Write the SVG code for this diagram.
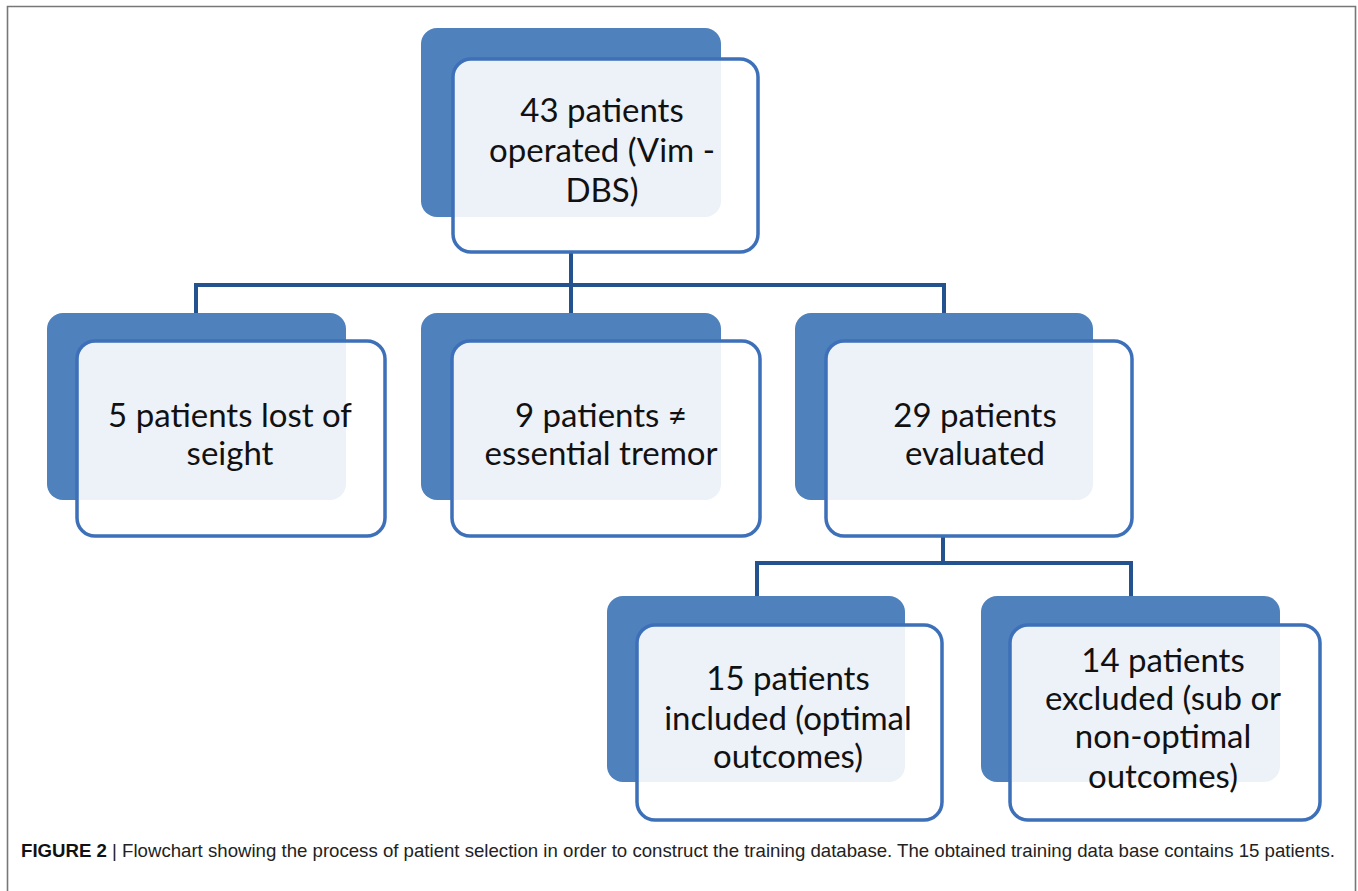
<svg xmlns="http://www.w3.org/2000/svg" width="1358" height="891" viewBox="0 0 1358 891">
<style>
.back{fill:#4f81bd}
.frontbg{fill:#ffffff}
.light{fill:#edf2f9}
.front{fill:none;stroke:#3d70b8;stroke-width:3.5}
.lbl{font-family:Lato,"Open Sans",sans-serif;font-size:33px;fill:#111;text-anchor:middle}
.conn{fill:none;stroke:#24528f;stroke-width:4}
.faint{fill:none;stroke:#dde6f2;stroke-width:4}
.cap{font-family:"Liberation Sans",Arial,sans-serif;font-size:18.5px;fill:#222}
</style>
<rect x="0" y="0" width="1358" height="891" fill="#ffffff"/>
<path d="M7.5,891 V6.5 H1355.5 V891" fill="none" stroke="#777" stroke-width="1.6"/>

<g id="connectors">
<path class="faint" d="M571,226 V250 M943,508 V534"/>
<path class="conn" d="M571,253 V313 M196,313 V285 H944 V313"/>
<path class="conn" d="M943,537 V563 M757,596 V563 H1131 V596"/>
</g>

<g id="n1">
<rect class="back" x="421" y="28" width="300" height="189" rx="16"/>
<rect class="frontbg" x="453" y="59" width="305" height="193" rx="18"/>
<path class="light" d="M453,77 A18,18 0 0 1 471,59 H721 V201 A16,16 0 0 1 705,217 H453 Z"/>
<rect class="front" x="453" y="59" width="305" height="193" rx="18"/>
<text class="lbl" x="602" y="122">43 patients</text>
<text class="lbl" x="602" y="162">operated (Vim -</text>
<text class="lbl" x="602" y="202">DBS)</text>
</g>

<g id="n2">
<rect class="back" x="47" y="313" width="299" height="187" rx="16"/>
<rect class="frontbg" x="77" y="341" width="308" height="195" rx="18"/>
<path class="light" d="M77,359 A18,18 0 0 1 95,341 H346 V484 A16,16 0 0 1 330,500 H77 Z"/>
<rect class="front" x="77" y="341" width="308" height="195" rx="18"/>
<text class="lbl" x="230" y="427">5 patients lost of</text>
<text class="lbl" x="230" y="465">seight</text>
</g>

<g id="n3">
<rect class="back" x="421" y="313" width="300" height="187" rx="16"/>
<rect class="frontbg" x="452" y="341" width="308" height="195" rx="18"/>
<path class="light" d="M452,359 A18,18 0 0 1 470,341 H721 V484 A16,16 0 0 1 705,500 H452 Z"/>
<rect class="front" x="452" y="341" width="308" height="195" rx="18"/>
<text class="lbl" x="601" y="427">9 patients ≠</text>
<text class="lbl" x="601" y="465">essential tremor</text>
</g>

<g id="n4">
<rect class="back" x="795" y="313" width="298" height="187" rx="16"/>
<rect class="frontbg" x="826" y="341" width="306" height="195" rx="18"/>
<path class="light" d="M826,359 A18,18 0 0 1 844,341 H1093 V484 A16,16 0 0 1 1077,500 H826 Z"/>
<rect class="front" x="826" y="341" width="306" height="195" rx="18"/>
<text class="lbl" x="975" y="427">29 patients</text>
<text class="lbl" x="975" y="465">evaluated</text>
</g>

<g id="n5">
<rect class="back" x="607" y="596" width="298" height="186" rx="16"/>
<rect class="frontbg" x="637" y="625" width="305" height="195" rx="18"/>
<path class="light" d="M637,643 A18,18 0 0 1 655,625 H905 V766 A16,16 0 0 1 889,782 H637 Z"/>
<rect class="front" x="637" y="625" width="305" height="195" rx="18"/>
<text class="lbl" x="788" y="690">15 patients</text>
<text class="lbl" x="788" y="730">included (optimal</text>
<text class="lbl" x="788" y="768">outcomes)</text>
</g>

<g id="n6">
<rect class="back" x="981" y="596" width="299" height="186" rx="16"/>
<rect class="frontbg" x="1010" y="625" width="310" height="195" rx="18"/>
<path class="light" d="M1010,643 A18,18 0 0 1 1028,625 H1280 V766 A16,16 0 0 1 1264,782 H1010 Z"/>
<rect class="front" x="1010" y="625" width="310" height="195" rx="18"/>
<text class="lbl" x="1163" y="672">14 patients</text>
<text class="lbl" x="1163" y="710">excluded (sub or</text>
<text class="lbl" x="1163" y="748">non-optimal</text>
<text class="lbl" x="1163" y="788">outcomes)</text>
</g>

<text class="cap" x="21" y="857" textLength="1314" lengthAdjust="spacingAndGlyphs"><tspan font-weight="bold" fill="#111">FIGURE 2</tspan> | Flowchart showing the process of patient selection in order to construct the training database. The obtained training data base contains 15 patients.</text>
</svg>
